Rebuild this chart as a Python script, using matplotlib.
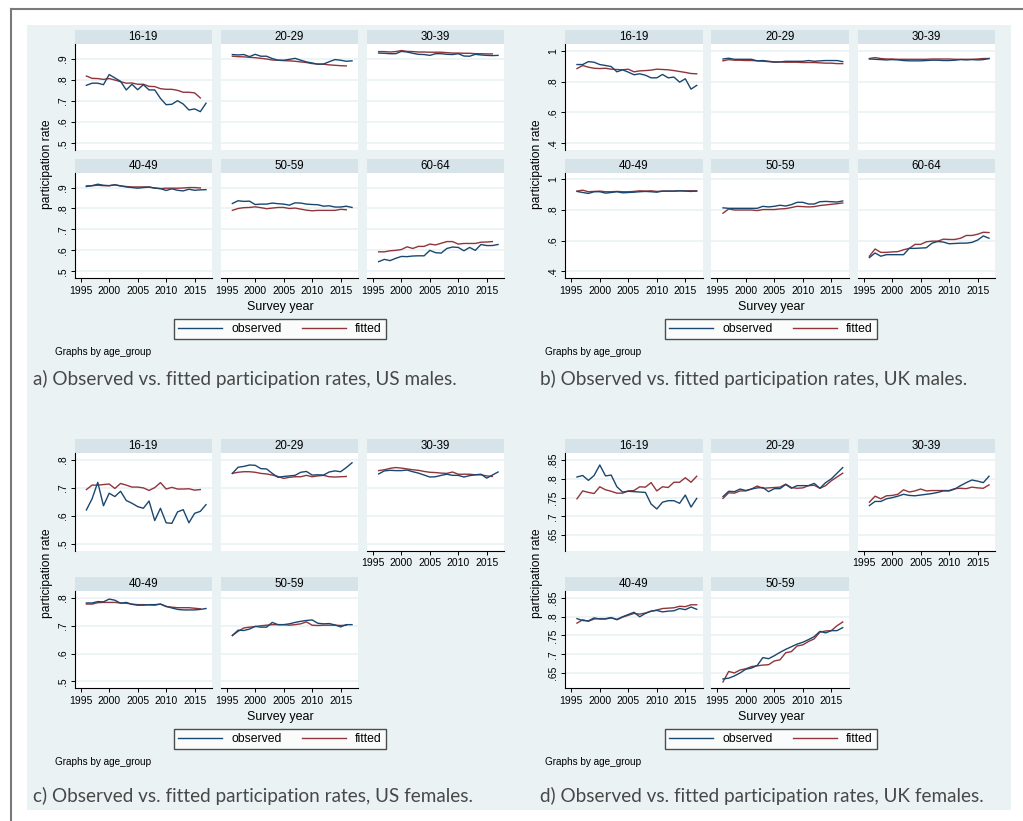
import matplotlib
matplotlib.use("Agg")
import matplotlib.pyplot as plt
from matplotlib.lines import Line2D
from matplotlib.patches import Rectangle

W, H = 1023, 821

years = list(range(1996, 2018))
groups_m = ["16-19", "20-29", "30-39", "40-49", "50-59", "60-64"]
groups_f = ["16-19", "20-29", "30-39", "40-49", "50-59"]
xticks = [1995, 2000, 2005, 2010, 2015]

# --- US males ---
us_m_obs_16_19 = [.775, .785, .785, .778, .826, .81, .794, .753, .78, .754, .778, .753, .753, .713, .683, .685, .702, .686, .658, .663, .65, .69]
us_m_fit_16_19 = [.819, .808, .807, .803, .807, .80, .792, .785, .786, .78, .78, .77, .769, .759, .756, .756, .751, .742, .742, .739, .715]
us_m_obs_20_29 = [.921, .919, .921, .911, .922, .913, .913, .902, .894, .894, .898, .903, .894, .886, .881, .875, .876, .887, .897, .894, .889, .891]
us_m_fit_20_29 = [.913, .911, .91, .908, .906, .903, .90, .895, .894, .892, .891, .889, .886, .883, .878, .876, .875, .872, .87, .868, .867]
us_m_obs_30_39 = [.928, .927, .925, .925, .936, .933, .927, .922, .921, .917, .925, .925, .922, .921, .925, .914, .913, .922, .919, .917, .916, .917]
us_m_fit_30_39 = [.935, .935, .933, .935, .94, .936, .935, .933, .933, .932, .932, .932, .93, .928, .928, .927, .927, .925, .925, .924, .924]
us_m_obs_40_49 = [.905, .909, .916, .911, .909, .913, .908, .903, .90, .897, .90, .902, .898, .895, .886, .894, .887, .884, .892, .887, .889, .89]
us_m_fit_40_49 = [.908, .909, .911, .909, .909, .913, .908, .905, .903, .903, .903, .903, .897, .895, .897, .897, .897, .898, .90, .90, .898]
us_m_obs_50_59 = [.824, .837, .834, .835, .819, .821, .821, .826, .823, .821, .816, .827, .826, .821, .819, .818, .811, .813, .807, .807, .811, .805]
us_m_fit_50_59 = [.791, .80, .804, .805, .808, .804, .799, .802, .805, .805, .80, .802, .797, .792, .789, .791, .791, .791, .791, .796, .794]
us_m_obs_60_64 = [.546, .557, .551, .562, .571, .57, .573, .574, .574, .60, .589, .587, .609, .616, .614, .598, .614, .60, .628, .623, .623, .628]
us_m_fit_60_64 = [.593, .593, .598, .60, .604, .617, .609, .619, .619, .63, .626, .634, .642, .642, .63, .633, .633, .633, .639, .64, .642]

# --- UK males ---
uk_m_obs_16_19 = [.91, .91, .929, .925, .91, .904, .897, .863, .876, .861, .844, .85, .841, .824, .824, .846, .824, .829, .796, .818, .751, .775]
uk_m_fit_16_19 = [.884, .904, .893, .886, .884, .886, .88, .878, .876, .88, .863, .869, .871, .874, .88, .878, .876, .871, .865, .859, .852, .85]
uk_m_obs_20_29 = [.946, .951, .944, .944, .944, .944, .934, .936, .931, .927, .927, .931, .931, .931, .931, .936, .931, .934, .936, .936, .936, .929]
uk_m_fit_20_29 = [.934, .942, .938, .938, .936, .936, .934, .931, .929, .925, .927, .925, .925, .925, .923, .923, .923, .921, .919, .919, .916, .916]
uk_m_obs_30_39 = [.946, .944, .942, .94, .942, .94, .936, .934, .934, .934, .936, .938, .938, .936, .936, .938, .942, .94, .942, .94, .942, .949]
uk_m_fit_30_39 = [.949, .955, .949, .946, .946, .944, .944, .944, .944, .944, .944, .946, .946, .946, .946, .944, .944, .944, .944, .946, .949, .949]
uk_m_obs_40_49 = [.921, .914, .908, .919, .919, .91, .914, .919, .912, .914, .916, .919, .921, .919, .916, .923, .923, .923, .925, .923, .921, .923]
uk_m_fit_40_49 = [.923, .929, .919, .921, .923, .919, .919, .921, .919, .919, .921, .925, .923, .925, .921, .923, .923, .923, .925, .925, .925, .925]
uk_m_obs_50_59 = [.814, .811, .811, .811, .811, .811, .811, .824, .82, .824, .831, .826, .835, .85, .85, .839, .839, .854, .856, .854, .852, .859]
uk_m_fit_50_59 = [.779, .807, .80, .80, .80, .80, .796, .803, .803, .803, .807, .809, .816, .824, .822, .82, .822, .829, .833, .837, .841, .846]
uk_m_obs_60_64 = [.49, .52, .499, .509, .509, .509, .509, .55, .55, .552, .554, .584, .595, .591, .58, .582, .584, .584, .589, .604, .631, .616]
uk_m_fit_60_64 = [.499, .546, .524, .524, .527, .529, .541, .55, .576, .576, .593, .597, .597, .61, .608, .608, .616, .634, .634, .642, .655, .653]

# --- US females ---
us_f_obs_16_19 = [.621, .661, .72, .636, .681, .669, .688, .655, .645, .633, .627, .653, .583, .627, .575, .573, .614, .622, .575, .609, .616, .64]
us_f_fit_16_19 = [.694, .71, .71, .712, .714, .698, .716, .71, .703, .703, .70, .691, .701, .719, .696, .702, .696, .696, .697, .692, .694]
us_f_obs_20_29 = [.752, .774, .777, .782, .781, .769, .768, .752, .738, .741, .743, .745, .756, .759, .746, .747, .746, .757, .761, .758, .773, .79]
us_f_fit_20_29 = [.752, .756, .758, .758, .756, .752, .75, .746, .741, .734, .738, .74, .74, .745, .74, .743, .745, .74, .739, .74, .741]
us_f_obs_30_39 = [.75, .761, .763, .762, .762, .764, .758, .753, .746, .739, .74, .745, .749, .745, .745, .739, .744, .747, .749, .735, .746, .757]
us_f_fit_30_39 = [.762, .765, .77, .773, .771, .768, .765, .763, .759, .756, .755, .753, .752, .757, .749, .749, .749, .747, .747, .743, .741]
us_f_obs_40_49 = [.782, .782, .787, .786, .796, .792, .781, .784, .777, .774, .774, .776, .776, .778, .77, .764, .759, .757, .757, .757, .759, .762]
us_f_fit_40_49 = [.778, .778, .783, .784, .784, .784, .782, .781, .778, .776, .776, .775, .774, .778, .769, .767, .765, .765, .765, .763, .761]
us_f_obs_50_59 = [.665, .684, .683, .688, .698, .695, .695, .712, .704, .704, .707, .712, .716, .719, .721, .709, .707, .708, .703, .696, .704, .704]
us_f_fit_50_59 = [.665, .68, .692, .695, .697, .70, .702, .704, .704, .704, .702, .704, .707, .714, .702, .701, .702, .702, .702, .701, .702]

# --- UK females ---
uk_f_obs_16_19 = [.805, .809, .796, .809, .837, .808, .81, .779, .765, .767, .766, .765, .764, .733, .72, .738, .742, .742, .735, .757, .725, .748]
uk_f_fit_16_19 = [.747, .768, .764, .761, .779, .771, .767, .762, .762, .768, .769, .779, .778, .79, .768, .779, .777, .791, .791, .803, .791, .807]
uk_f_obs_20_29 = [.753, .767, .766, .773, .769, .773, .776, .777, .766, .774, .774, .785, .775, .782, .782, .782, .788, .775, .79, .80, .815, .83]
uk_f_fit_20_29 = [.748, .763, .762, .768, .768, .773, .781, .775, .776, .777, .778, .786, .777, .775, .776, .782, .783, .775, .782, .795, .805, .815]
uk_f_obs_30_39 = [.729, .74, .74, .747, .75, .754, .759, .756, .755, .757, .759, .761, .764, .768, .768, .773, .782, .79, .797, .794, .79, .807]
uk_f_fit_30_39 = [.738, .754, .747, .755, .756, .759, .771, .765, .768, .773, .768, .769, .769, .769, .769, .774, .775, .774, .778, .776, .775, .784]
uk_f_obs_40_49 = [.795, .79, .789, .797, .794, .794, .797, .793, .80, .806, .812, .80, .809, .815, .817, .813, .815, .816, .822, .819, .826, .82]
uk_f_fit_40_49 = [.783, .792, .788, .794, .795, .795, .798, .792, .799, .804, .809, .807, .81, .815, .818, .822, .823, .824, .828, .827, .832, .832]
uk_f_obs_50_59 = [.634, .636, .642, .65, .66, .663, .67, .691, .688, .696, .705, .713, .72, .727, .732, .739, .747, .761, .757, .763, .763, .771]
uk_f_fit_50_59 = [.626, .654, .65, .658, .661, .667, .669, .671, .672, .682, .685, .704, .707, .722, .725, .734, .741, .759, .762, .763, .776, .786]

# tick labels per block (Stata style, no leading zero)
us_m_yticks, us_m_ylabels = [.5, .6, .7, .8, .9], [".5", ".6", ".7", ".8", ".9"]
uk_m_yticks, uk_m_ylabels = [.4, .6, .8, 1.0], [".4", ".6", ".8", "1"]
us_f_yticks, us_f_ylabels = [.5, .6, .7, .8], [".5", ".6", ".7", ".8"]
uk_f_yticks, uk_f_ylabels = [.65, .7, .75, .8, .85], [".65", ".7", ".75", ".8", ".85"]

captions = [
    "a) Observed vs. fitted participation rates, US males.",
    "b) Observed vs. fitted participation rates, UK males.",
    "c) Observed vs. fitted participation rates, US females.",
    "d) Observed vs. fitted participation rates, UK females.",
]

NAVY = "#1a476f"
MAROON = "#90353b"
BG = "#eaf2f3"
STRIP = "#d6e3e8"
GRID = "#eaf2f3"
FONT = ["Liberation Sans", "DejaVu Sans"]
CAPFONT = ["Lato", "DejaVu Sans"]

plt.rcParams["font.family"] = FONT

fig = plt.figure(figsize=(W / 100, H / 100), dpi=100)
fig.patch.set_facecolor("white")

# light background and outer frame
fig.add_artist(Rectangle((27 / W, 1 - 810 / H), (1011 - 27) / W, (810 - 25) / H,
                         transform=fig.transFigure, facecolor=BG, edgecolor="none", zorder=0))
fig.add_artist(Line2D([11 / W, 1.0], [1 - 9 / H, 1 - 9 / H], transform=fig.transFigure,
                      color="#7a7a7a", lw=1.5))
fig.add_artist(Line2D([11 / W, 11 / W], [0, 1 - 9 / H], transform=fig.transFigure,
                      color="#7a7a7a", lw=1.5))


def rect(x0, y0, x1, y1):
    return [x0 / W, 1 - y1 / H, (x1 - x0) / W, (y1 - y0) / H]


def ftext(x, y, s, **kw):
    fig.text(x / W, 1 - y / H, s, **kw)


def draw_block(cols, rows, groups, obs, fit, ylim, yticks, ylabels, xtitle_x, ylab_x, ylab_y,
               cap_x, cap_y, note_x, note_y, legend_y, caption):
    n = len(groups)
    for i in range(n):
        r, c = divmod(i, 3)
        x0, x1 = cols[c]
        hy0, py0, py1 = rows[r]
        # strip with group name
        sax = fig.add_axes(rect(x0, hy0, x1, py0))
        sax.set_facecolor(STRIP)
        sax.set_xticks([])
        sax.set_yticks([])
        for sp in sax.spines.values():
            sp.set_visible(False)
        sax.text(0.5, 0.5, groups[i], ha="center", va="center", fontsize=8.3, transform=sax.transAxes)

        ax = fig.add_axes(rect(x0, py0, x1, py1))
        ax.set_facecolor("white")
        ax.plot(years[:len(fit[i])], fit[i], color=MAROON, lw=1.0, zorder=3)
        ax.plot(years[:len(obs[i])], obs[i], color=NAVY, lw=1.0, zorder=4)
        ax.set_xlim(1993.95, 2018.05)
        ax.set_ylim(*ylim)
        ax.set_yticks(yticks)
        for yv in yticks:
            ax.axhline(yv, color=GRID, lw=1.2, zorder=1)
        for sp in ax.spines.values():
            sp.set_visible(False)

        show_x = (r == 1) or (n == 5 and i == 2)
        if c == 0:
            ax.spines["left"].set_visible(True)
            ax.spines["left"].set_linewidth(0.8)
            ax.set_yticklabels(ylabels, rotation=90, va="center", fontsize=7.5)
            ax.tick_params(axis="y", length=3, width=0.7, pad=2)
        else:
            ax.tick_params(axis="y", length=0, labelleft=False)
        if show_x:
            ax.spines["bottom"].set_visible(True)
            ax.spines["bottom"].set_linewidth(0.8)
            ax.set_xticks(xticks)
            ax.set_xticklabels([str(t) for t in xticks], fontsize=7.5)
            ax.tick_params(axis="x", length=3, width=0.7, pad=2.5)
        else:
            ax.set_xticks([])

    ftext(xtitle_x, legend_y - 22, "Survey year", ha="center", va="center", fontsize=9)
    ftext(ylab_x, ylab_y, "participation rate", ha="center", va="center", rotation=90, fontsize=8.7)

    handles = [Line2D([], [], color=NAVY, lw=1.0), Line2D([], [], color=MAROON, lw=1.0)]
    leg = fig.legend(handles, ["observed", "fitted"], loc="center",
                     bbox_to_anchor=(xtitle_x / W, 1 - legend_y / H), ncol=2, fontsize=8.8,
                     frameon=True, fancybox=False, handlelength=3.6, handletextpad=0.7,
                     columnspacing=1.7, borderpad=0.35)
    leg.get_frame().set_edgecolor("#222222")
    leg.get_frame().set_linewidth(1.0)
    leg.get_frame().set_facecolor("white")

    ftext(note_x, note_y, "Graphs by age_group", ha="left", va="center", fontsize=7.2)
    ftext(cap_x, cap_y, caption, ha="left", va="center", fontsize=13.6,
          family=CAPFONT, fontweight="normal", color="#484848")


cols_left = [(74.7, 212), (220.7, 358), (367, 504)]
cols_right = [(565.3, 702.7), (711.3, 848.7), (857.7, 995)]
rows_top = [(30, 44, 150), (159.3, 172.7, 278)]
rows_bot = [(439.3, 453.3, 550.7), (577.3, 591.3, 688.3)]

draw_block(cols_left, rows_top, groups_m,
           [us_m_obs_16_19, us_m_obs_20_29, us_m_obs_30_39, us_m_obs_40_49, us_m_obs_50_59, us_m_obs_60_64],
           [us_m_fit_16_19, us_m_fit_20_29, us_m_fit_30_39, us_m_fit_40_49, us_m_fit_50_59, us_m_fit_60_64],
           (0.468, 0.971), us_m_yticks, us_m_ylabels,
           280, 46.7, 164, 33, 379, 54.7, 352, 329, captions[0])

draw_block(cols_right, rows_top, groups_m,
           [uk_m_obs_16_19, uk_m_obs_20_29, uk_m_obs_30_39, uk_m_obs_40_49, uk_m_obs_50_59, uk_m_obs_60_64],
           [uk_m_fit_16_19, uk_m_fit_20_29, uk_m_fit_30_39, uk_m_fit_40_49, uk_m_fit_50_59, uk_m_fit_60_64],
           (0.357, 1.043), uk_m_yticks, uk_m_ylabels,
           771, 537.3, 164, 540, 379, 545.3, 352, 329, captions[1])

draw_block(cols_left, rows_bot, groups_f,
           [us_f_obs_16_19, us_f_obs_20_29, us_f_obs_30_39, us_f_obs_40_49, us_f_obs_50_59],
           [us_f_fit_16_19, us_f_fit_20_29, us_f_fit_30_39, us_f_fit_40_49, us_f_fit_50_59],
           (0.475, 0.824), us_f_yticks, us_f_ylabels,
           280, 46.7, 573, 33, 795.7, 54.7, 761.7, 739, captions[2])

draw_block(cols_right, rows_bot, groups_f,
           [uk_f_obs_16_19, uk_f_obs_20_29, uk_f_obs_30_39, uk_f_obs_40_49, uk_f_obs_50_59],
           [uk_f_fit_16_19, uk_f_fit_20_29, uk_f_fit_30_39, uk_f_fit_40_49, uk_f_fit_50_59],
           (0.609, 0.868), uk_f_yticks, uk_f_ylabels,
           771, 537.3, 573, 540, 795.7, 545.3, 761.7, 739, captions[3])

fig.savefig("out.png", dpi=100, facecolor=fig.get_facecolor())
